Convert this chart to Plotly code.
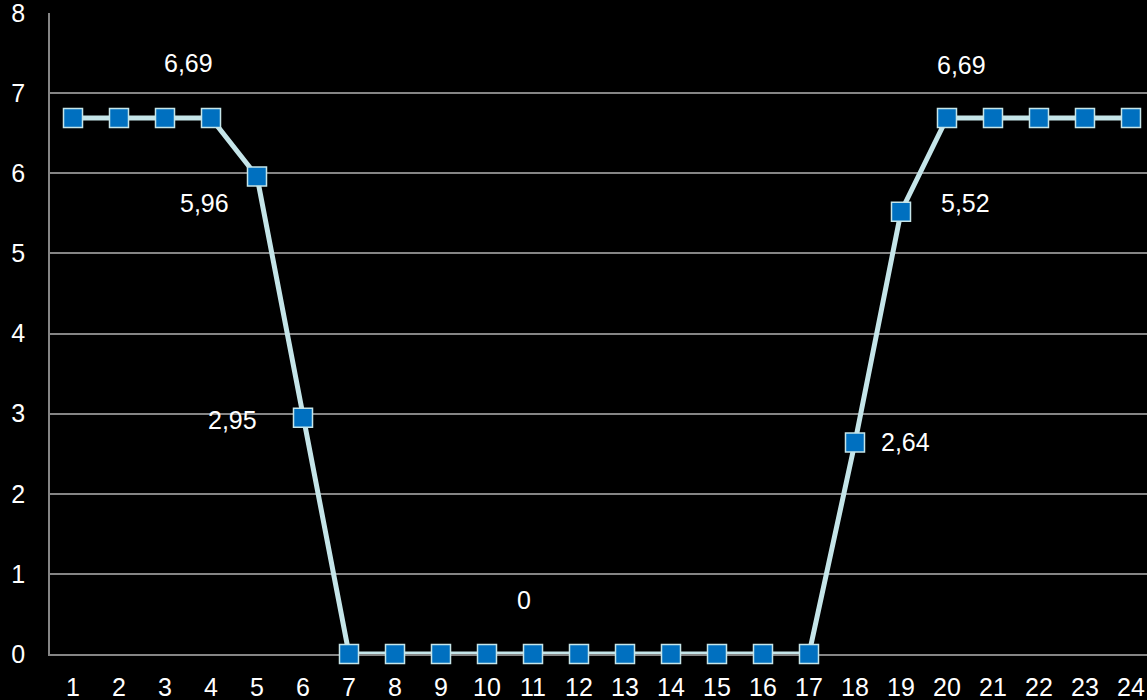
import plotly.graph_objects as go

# Hourly values (hour of day -> value)
hours = list(range(1, 25))
values = [6.69, 6.69, 6.69, 6.69, 5.96, 2.95, 0, 0, 0, 0, 0, 0,
          0, 0, 0, 0, 0, 2.64, 5.52, 6.69, 6.69, 6.69, 6.69, 6.69]
y_ticks = list(range(0, 9))

# Which points get a value label, and the pixel offset of each label
label_points = [3, 5, 6, 11, 18, 19, 20]
label_offsets = {3: (23, 55), 5: (-53, -27), 6: (-71, -2), 11: (-9, 54),
                 18: (51, 0), 19: (65, 9), 20: (15, 53)}


def fmt(v):
    return f"{v:g}".replace(".", ",")


FONT = dict(family="Liberation Sans, Arial, sans-serif", size=25, color="white")
GRID = "#858585"

fig = go.Figure()
fig.add_trace(go.Scatter(
    x=hours, y=values, mode="lines+markers",
    line=dict(color="#c5e5e9", width=5),
    marker=dict(symbol="square", size=19, color="#0070c0",
                line=dict(color="#c5e5e9", width=1.5)),
    cliponaxis=False, showlegend=False, hoverinfo="x+y",
))

annotations = []
for h in label_points:
    v = values[h - 1]
    dx, dy = label_offsets[h]
    annotations.append(dict(
        x=h, y=v, xref="x", yref="y", text=fmt(v), showarrow=False,
        xshift=dx, yshift=dy, font=FONT,
    ))

fig.update_layout(
    width=1147, height=700,
    margin=dict(l=50, r=0, t=13, b=46, autoexpand=False),
    paper_bgcolor="black", plot_bgcolor="black",
    font=FONT,
    annotations=annotations,
    xaxis=dict(
        range=[0.5, 24.348], tickvals=hours, ticktext=[str(h) for h in hours],
        showgrid=False, zeroline=False, showline=True, linecolor=GRID,
        linewidth=1.5, ticks="", ticklabelstandoff=10, layer="below traces",
        tickfont=FONT, fixedrange=True, automargin=False,
        ticklabeloverflow="allow",
    ),
    yaxis=dict(
        range=[0, 8], tickvals=y_ticks, showgrid=True, gridcolor=GRID,
        gridwidth=1.5, zeroline=False, showline=True, linecolor=GRID,
        linewidth=1.5, ticks="", ticklabelstandoff=18, layer="below traces",
        tickfont=FONT, fixedrange=True, automargin=False,
        ticklabeloverflow="allow",
    ),
)

fig.write_html("out.html")
